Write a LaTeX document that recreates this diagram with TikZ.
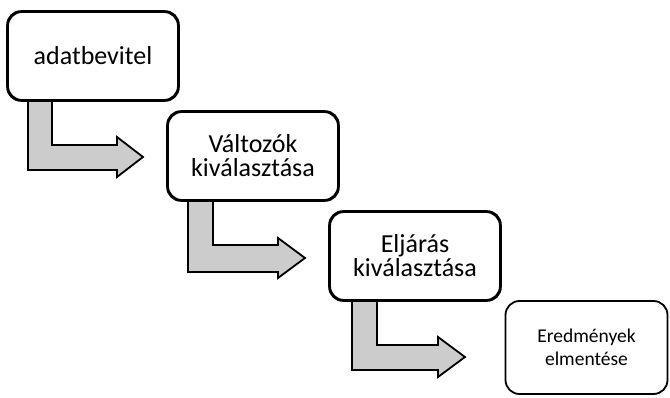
\documentclass[tikz,border=0pt]{standalone}
\usepackage{fontspec}
\setmainfont{Carlito}
\definecolor{arrgray}{RGB}{204,204,204}
\begin{document}
\begin{tikzpicture}[x=1pt,y=-1pt,
  box/.style={draw=black, line width=1.8pt, rounded corners=14pt, fill=white,
    minimum width=170pt, minimum height=88pt, align=center, inner sep=0pt},
  outline/.style={line width=1.8pt, rounded corners=14pt},
  barrow/.style={draw=black, line width=1.8pt, fill=arrgray, line join=miter},
  big/.style={font=\fontsize{26}{24}\selectfont},
  small/.style={font=\fontsize{19.5}{23}\selectfont}]
\useasboundingbox (0,0) rectangle (670,398);
% boxes
\node[box,big] (b1) at (93,56) {adatbevitel};
\node[box,big] (b2) at (253,156) {Változók\\kiválasztása};
\node[box,big] (b3) at (415,256) {Eljárás\\kiválasztása};
\node[box,small,minimum width=162pt,minimum height=93pt] (b4) at (586.5,347.5) {Eredmények\\elmentése};
% bent arrows
\draw[barrow] (b1.south -| 28,0) -- (28,170) -- (117,170) -- (117,177) -- (143,157) -- (117,137) -- (117,145) -- (52,145) -- (b1.south -| 52,0) -- cycle;
\draw[barrow] (b2.south -| 188,0) -- (188,272) -- (278,272) -- (278,278) -- (305,258) -- (278,238) -- (278,245) -- (213,245) -- (b2.south -| 213,0) -- cycle;
\draw[barrow] (b3.south -| 352,0) -- (352,370) -- (438,370) -- (438,377) -- (465,357) -- (438,337) -- (438,345) -- (377,345) -- (b3.south -| 377,0) -- cycle;
% redraw box outlines over arrow stems
\draw[outline] (b1.south west) rectangle (b1.north east);
\draw[outline] (b2.south west) rectangle (b2.north east);
\draw[outline] (b3.south west) rectangle (b3.north east);
\end{tikzpicture}
\end{document}
